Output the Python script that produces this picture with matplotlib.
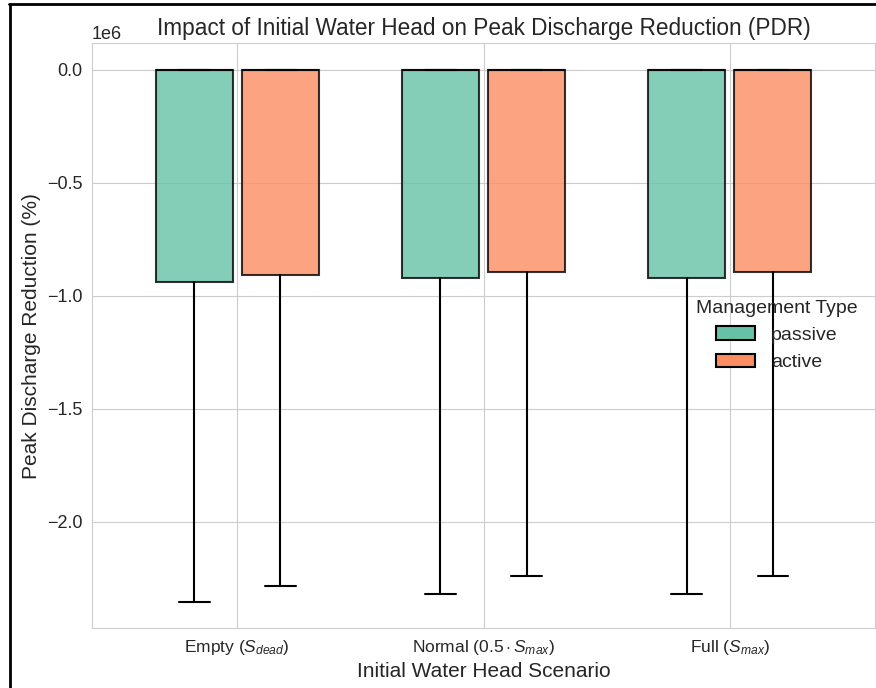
import matplotlib
matplotlib.use("Agg")
import matplotlib.pyplot as plt
import matplotlib.patches as mpatches
from matplotlib.lines import Line2D
import seaborn as sns

sns.set_style("whitegrid")
plt.rcParams['font.family'] = ['Liberation Sans', 'DejaVu Sans']
plt.rcParams['mathtext.fontset'] = 'custom'
plt.rcParams['mathtext.rm'] = 'Liberation Sans'
plt.rcParams['mathtext.it'] = 'Liberation Sans:italic'

#data (values in absolute units, axis shows 1e6)
scenarios = ['Empty ($S_{dead}$)', 'Normal ($0.5 \\cdot S_{max}$)', 'Full ($S_{max}$)']
management = ['passive', 'active']
colors = ['#66c2a5', '#fc8d62']

q3_vals = {'passive': [0, 0, 0], 'active': [0, 0, 0]}
med_vals = {'passive': [0, 0, 0], 'active': [0, 0, 0]}
q1_vals = {'passive': [-0.941e6, -0.920e6, -0.920e6],
           'active': [-0.908e6, -0.895e6, -0.895e6]}
whislo_vals = {'passive': [-2.353e6, -2.318e6, -2.318e6],
               'active': [-2.282e6, -2.242e6, -2.242e6]}
whishi_vals = {'passive': [0, 0, 0], 'active': [0, 0, 0]}

box_w = 0.313
offset = 0.175

fig = plt.figure(figsize=(8.76, 6.88), dpi=100)
ax = fig.add_axes([0.105, 0.087, 0.894, 0.8505])

for k, m in enumerate(management):
    stats = []
    for i in range(len(scenarios)):
        stats.append({'med': med_vals[m][i], 'q1': q1_vals[m][i], 'q3': q3_vals[m][i],
                      'whislo': whislo_vals[m][i], 'whishi': whishi_vals[m][i],
                      'fliers': []})
    pos = [i + (k - 0.5) * 2 * offset for i in range(len(scenarios))]
    r, g, b = matplotlib.colors.to_rgb(colors[k])
    ax.bxp(stats, positions=pos, widths=box_w, patch_artist=True,
           showfliers=False, capwidths=box_w * 0.4, manage_ticks=False,
           boxprops=dict(facecolor=(r, g, b, 0.8), edgecolor=(0, 0, 0, 0.8), linewidth=1.5),
           whiskerprops=dict(color='black', linewidth=1.5),
           capprops=dict(color='black', linewidth=1.5),
           medianprops=dict(color=(0, 0, 0, 0.8), linewidth=1.5))

ax.set_xticks(range(len(scenarios)))
ax.set_xticklabels(scenarios, fontsize=12.5)
ax.set_xlim(-0.59, 2.59)
ax.set_ylim(-2.4705e6, 0.1175e6)
ax.tick_params(axis='y', labelsize=13)
ax.yaxis.get_offset_text().set_fontsize(13)

ax.set_title("Impact of Initial Water Head on Peak Discharge Reduction (PDR)", fontsize=16.3)
ax.set_xlabel("Initial Water Head Scenario", fontsize=15)
ax.set_ylabel("Peak Discharge Reduction (%)", fontsize=15)

handles = [mpatches.Patch(facecolor=c, edgecolor='black', linewidth=1.5, label=m)
           for c, m in zip(colors, management)]
ax.legend(handles=handles, title="Management Type", loc='center right',
          frameon=False, fontsize=14, title_fontsize=14)

#black screenshot frame on top and left
fig.add_artist(Line2D([0.0103, 1], [0.9942, 0.9942], transform=fig.transFigure, color='black', lw=2))
fig.add_artist(Line2D([0.0114, 0.0114], [0, 0.9942], transform=fig.transFigure, color='black', lw=2))

fig.savefig("out.png", dpi=100)
